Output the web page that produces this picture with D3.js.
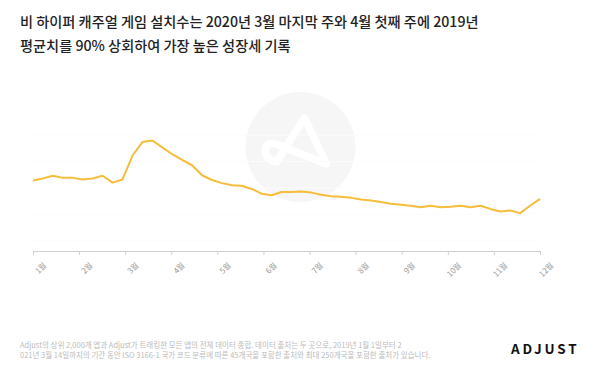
<!DOCTYPE html>
<html>
<head>
<meta charset="utf-8">
<script src="https://cdn.jsdelivr.net/npm/d3@7"></script>
<style>
  body { margin: 0; background: #fff; }
  text { font-family: "Noto Sans CJK KR", "Noto Sans", sans-serif; }
</style>
</head>
<body>
<div id="chart"></div>
<script>
// Weekly index values
const installIndex = [
  114, 118, 123, 119, 119, 116, 118, 123, 110, 116,
  161, 187, 190, 177, 164, 153, 143, 124, 115, 109,
  105, 104, 98, 89, 86, 92, 92, 93, 91, 87,
  84, 83, 81, 78, 76, 73, 70, 68, 66, 63,
  66, 63, 64, 66, 63, 66, 60, 55, 57, 52,
  66, 79
];
const monthLabels = ["1월", "2월", "3월", "4월", "5월", "6월", "7월", "8월", "9월", "10월", "11월", "12월"];
const titleLines = [
  "비 하이퍼 캐주얼 게임 설치수는 2020년 3월 마지막 주와 4월 첫째 주에 2019년",
  "평균치를 90% 상회하여 가장 높은 성장세 기록"
];
const footLines = [
  "Adjust의 상위 2,000개 앱과 Adjust가 트래킹한 모든 앱의 전체 데이터 종합. 데이터 출처는 두 곳으로, 2019년 1월 1일부터 2",
  "021년 3월 14일까지의 기간 동안 ISO 3166-1 국가 코드 분류에 따른 45개국을 포함한 출처와 최대 250개국을 포함한 출처가 있습니다."
];

const width = 600, height = 375;
const margin = { top: 130, right: 60, bottom: 124, left: 33 };
const plotW = width - margin.left - margin.right;
const plotH = height - margin.top - margin.bottom;

const svg = d3.select("#chart").append("svg")
  .attr("width", width)
  .attr("height", height);

// watermark
const wm = svg.append("g").attr("transform", "translate(300.5,147)");
wm.append("circle").attr("r", 55).attr("fill", "#f6f6f6");
wm.append("path")
  .attr("d", "M4,-29 L26,17 L-25,-3 C-38,-8 -40,13 -24,15 Z")
  .attr("fill", "none")
  .attr("stroke", "#fff")
  .attr("stroke-width", 7.5)
  .attr("stroke-linejoin", "round")
  .attr("stroke-linecap", "round");

const g = svg.append("g").attr("transform", `translate(${margin.left},${margin.top})`);

const x = d3.scaleLinear().domain([0, installIndex.length - 1]).range([0, plotW]);
const xMonth = d3.scaleLinear().domain([0, monthLabels.length - 1]).range([0, plotW]);
const y = d3.scaleLinear().domain([-20, 210]).range([plotH, 0]);

// faint gridlines
g.append("g")
  .selectAll("line")
  .data([0, 50, 100, 150, 200])
  .join("line")
  .attr("x1", 0).attr("x2", plotW)
  .attr("y1", d => y(d)).attr("y2", d => y(d))
  .attr("stroke", "#fbfbfb");

// x axis
const xAxis = g.append("g")
  .attr("transform", `translate(0,${plotH})`)
  .call(d3.axisBottom(xMonth)
    .tickValues(d3.range(monthLabels.length))
    .tickSize(4)
    .tickSizeOuter(0)
    .tickFormat(""));
xAxis.select(".domain").attr("stroke", "#d0d0d0");
xAxis.selectAll(".tick line").attr("stroke", "#d0d0d0");

g.append("g")
  .selectAll("text")
  .data(monthLabels)
  .join("text")
  .attr("transform", (d, i) => `translate(${xMonth(i) + 14},${plotH + 15}) rotate(-45)`)
  .attr("text-anchor", "end")
  .attr("font-size", 8)
  .attr("fill", "#999")
  .text(d => d);

// line
g.append("path")
  .datum(installIndex)
  .attr("fill", "none")
  .attr("stroke", "#f5bd3a")
  .attr("stroke-width", 2)
  .attr("stroke-linejoin", "round")
  .attr("d", d3.line().x((d, i) => x(i)).y(d => y(d)));

// title
svg.append("g")
  .selectAll("text")
  .data(titleLines)
  .join("text")
  .attr("x", 20)
  .attr("y", (d, i) => 27 + i * 24)
  .attr("font-size", 14.2)
  .attr("font-weight", 500)
  .attr("fill", "#222")
  .text(d => d);

// footer
svg.append("g")
  .selectAll("text")
  .data(footLines)
  .join("text")
  .attr("x", 20)
  .attr("y", (d, i) => 348 + i * 10)
  .attr("font-size", 7.5)
  .attr("fill", "#bbb")
  .text(d => d);

svg.append("text")
  .attr("x", 511)
  .attr("y", 354)
  .attr("font-size", 13.5)
  .attr("font-weight", 700)
  .attr("letter-spacing", 2.8)
  .attr("fill", "#111")
  .text("ADJUST");
</script>
</body>
</html>
